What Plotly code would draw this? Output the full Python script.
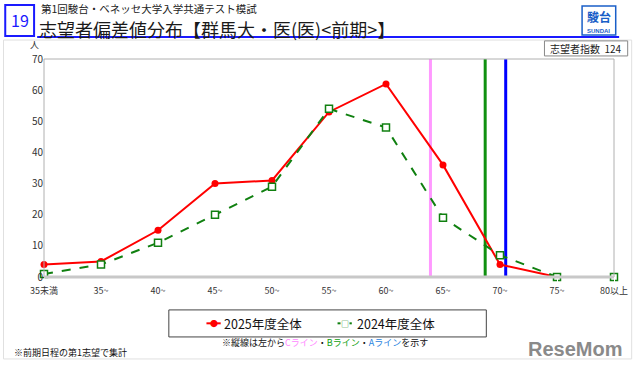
import plotly.graph_objects as go

categories = ["35未満", "35~", "40~", "45~", "50~", "55~", "60~", "65~", "70~", "75~", "80以上"]
values_2025 = [4, 5, 15, 30, 31, 53, 62, 36, 4, 0, 0]
values_2024 = [1, 4, 11, 20, 29, 54, 48, 19, 7, 0, 0]
line_names = ["Cライン", "Bライン", "Aライン"]
line_positions = [6.78, 7.74, 8.10]
line_colors = ["#ff99ff", "#109010", "#0000ff"]
y_ticks = [0, 10, 20, 30, 40, 50, 60, 70]

FONT = "Noto Sans CJK JP"
xs = list(range(len(categories)))

fig = go.Figure()
fig.add_trace(go.Scatter(
    x=xs, y=values_2025, mode="lines+markers", name="2025年度全体",
    line=dict(color="#ff0000", width=2),
    marker=dict(symbol="circle", size=7, color="#ff0000"),
    cliponaxis=False, showlegend=False))
fig.add_trace(go.Scatter(
    x=xs, y=values_2024, mode="lines+markers", name="2024年度全体",
    line=dict(color="#108010", width=2, dash="dash"),
    marker=dict(symbol="square", size=7, color="white", line=dict(color="#108010", width=1.5)),
    cliponaxis=False, showlegend=False))

shapes = []
for pos, col in zip(line_positions, line_colors):
    shapes.append(dict(type="line", xref="x", yref="y", x0=pos, x1=pos, y0=0, y1=70,
                       line=dict(color=col, width=3), layer="below"))
# frame
shapes.append(dict(type="rect", xref="paper", yref="paper", x0=0, x1=1, y0=0, y1=1,
                   line=dict(color="#b0b0b0", width=1)))
shapes.append(dict(type="line", xref="paper", yref="paper", x0=0, x1=1, y0=0, y1=0,
                   line=dict(color="#c8c8c8", width=3)))
# outer border
shapes.append(dict(type="rect", xref="paper", yref="paper", x0=-0.071, x1=1.031, y0=-0.376, y1=1.087,
                   line=dict(color="#e0e0e0", width=1), layer="below"))
# header number box
shapes.append(dict(type="rect", xref="paper", yref="paper", x0=-0.068, x1=-0.0174, y0=1.106, y1=1.248,
                   line=dict(color="#1a1aff", width=2), fillcolor="white"))
# header underline
shapes.append(dict(type="line", xref="paper", yref="paper", x0=-0.012, x1=1.009, y0=1.101, y1=1.101,
                   line=dict(color="#1a1aff", width=2)))
# SUNDAI logo box
shapes.append(dict(type="rect", xref="paper", yref="paper", x0=0.944, x1=1.003, y0=1.11, y1=1.243,
                   line=dict(color="#1a5fc8", width=1.5), fillcolor="white"))
# index box
shapes.append(dict(type="rect", xref="paper", yref="paper", x0=0.878, x1=1.024, y0=1.014, y1=1.083,
                   line=dict(color="#888888", width=1), fillcolor="white"))
# legend box
shapes.append(dict(type="rect", xref="paper", yref="paper", x0=0.219, x1=0.776, y0=-0.275, y1=-0.151,
                   line=dict(color="#444444", width=1), fillcolor="white"))
# legend markers
shapes.append(dict(type="line", xref="paper", yref="paper", x0=0.285, x1=0.31, y0=-0.2125, y1=-0.2125,
                   line=dict(color="#ff0000", width=2)))
shapes.append(dict(type="line", xref="paper", yref="paper", x0=0.515, x1=0.54, y0=-0.2125, y1=-0.2125,
                   line=dict(color="#108010", width=2)))

annotations = [
    dict(text="19", xref="paper", yref="paper", x=-0.0427, y=1.177, showarrow=False,
         font=dict(family=FONT, size=16, color="#1a1aff"), xanchor="center", yanchor="middle"),
    dict(text="第1回駿台・ベネッセ大学入学共通テスト模試", xref="paper", yref="paper", x=-0.009, y=1.232,
         showarrow=False, font=dict(family=FONT, size=10.5, color="#222222"), xanchor="left", yanchor="middle"),
    dict(text="志望者偏差値分布【群馬大・医(医)<前期>】", xref="paper", yref="paper", x=-0.012, y=1.137,
         showarrow=False, font=dict(family=FONT, size=18, color="#1a1a1a"), xanchor="left", yanchor="middle"),
    dict(text="<b>駿台</b>", xref="paper", yref="paper", x=0.9735, y=1.195, showarrow=False,
         font=dict(family=FONT, size=12, color="#1a5fc8"), xanchor="center", yanchor="middle"),
    dict(text="<b>SUNDAI</b>", xref="paper", yref="paper", x=0.9735, y=1.13, showarrow=False,
         font=dict(family="Liberation Sans", size=6, color="#1a5fc8"), xanchor="center", yanchor="middle"),
    dict(text="志望者指数  124", xref="paper", yref="paper", x=0.951, y=1.048, showarrow=False,
         font=dict(family=FONT, size=10, color="#222222"), xanchor="center", yanchor="middle"),
    dict(text="人", xref="paper", yref="paper", x=-0.016, y=1.028, showarrow=False,
         font=dict(family=FONT, size=9, color="#333333"), xanchor="center", yanchor="bottom"),
    dict(text="●", xref="paper", yref="paper", x=0.2975, y=-0.2125, showarrow=False,
         font=dict(family=FONT, size=8, color="#ff0000"), xanchor="center", yanchor="middle"),
    dict(text="2025年度全体", xref="paper", yref="paper", x=0.313, y=-0.2125, showarrow=False,
         font=dict(family=FONT, size=12.5, color="#111111"), xanchor="left", yanchor="middle"),
    dict(text="□", xref="paper", yref="paper", x=0.5275, y=-0.2125, showarrow=False,
         font=dict(family=FONT, size=8, color="#108010"), xanchor="center", yanchor="middle",
         bgcolor="white", borderpad=0),
    dict(text="2024年度全体", xref="paper", yref="paper", x=0.545, y=-0.2125, showarrow=False,
         font=dict(family=FONT, size=12.5, color="#111111"), xanchor="left", yanchor="middle"),
    dict(text="※縦線は左から<span style='color:#ff88ff'>Cライン</span>・<span style='color:#10a010'>Bライン</span>・<span style='color:#1e7fe0'>Aライン</span>を示す",
         xref="paper", yref="paper", x=0.493, y=-0.3, showarrow=False,
         font=dict(family=FONT, size=9, color="#111111"), xanchor="center", yanchor="middle"),
    dict(text="※前期日程の第1志望で集計", xref="paper", yref="paper", x=-0.057, y=-0.345, showarrow=False,
         font=dict(family=FONT, size=9, color="#111111"), xanchor="left", yanchor="middle"),
    dict(text="<b>ReseMom</b>", xref="paper", yref="paper", x=1.018, y=-0.33, showarrow=False,
         font=dict(family="Liberation Sans", size=20, color="#8a8a8a"), xanchor="right", yanchor="middle"),
]

fig.update_layout(
    width=640, height=365,
    margin=dict(l=44, r=21, t=59, b=88),
    paper_bgcolor="white", plot_bgcolor="white",
    font=dict(family=FONT, size=9, color="#333333"),
    shapes=shapes, annotations=annotations,
    xaxis=dict(range=[0, 10], tickmode="array", tickvals=xs, ticktext=categories,
               showgrid=False, zeroline=False, showline=False,
               ticks="outside", ticklen=5, tickcolor="white",
               tickfont=dict(family=FONT, size=9, color="#333333")),
    yaxis=dict(range=[0, 70], tickmode="array", tickvals=y_ticks,
               showgrid=False, zeroline=False, showline=False, ticks="",
               tickfont=dict(family=FONT, size=10, color="#333333")),
)

fig.write_html("out.html", config={"displayModeBar": False},
               post_script="document.body.style.margin='0';document.body.style.overflow='hidden';")
